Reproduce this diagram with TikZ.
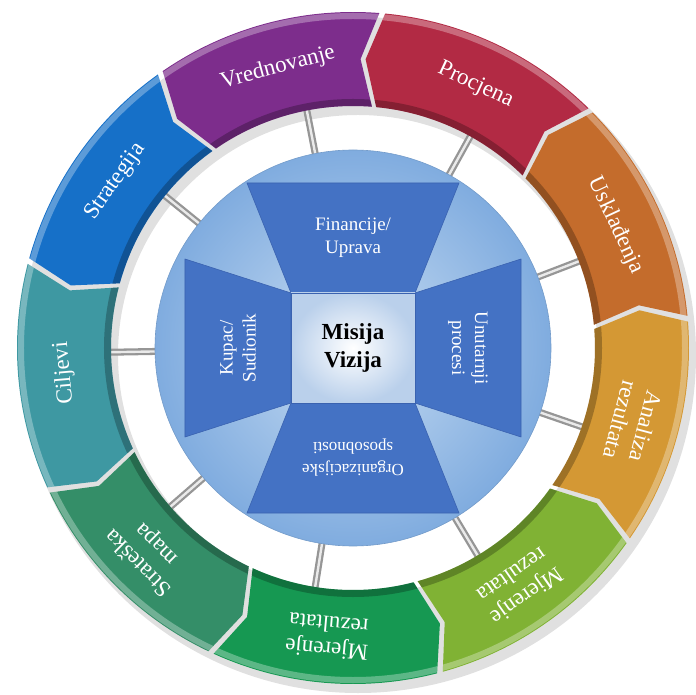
\documentclass[tikz,border=0pt]{standalone}
\usepackage{fontspec}
\setmainfont{Liberation Serif}

\definecolor{purpleSeg}{RGB}{125,45,140}
\definecolor{redSeg}{RGB}{178,42,68}
\definecolor{orangeSeg}{RGB}{196,108,44}
\definecolor{goldSeg}{RGB}{212,152,52}
\definecolor{limeSeg}{RGB}{128,178,52}
\definecolor{greenSeg}{RGB}{22,152,82}
\definecolor{seaSeg}{RGB}{52,142,104}
\definecolor{tealSeg}{RGB}{62,152,162}
\definecolor{blueSeg}{RGB}{22,112,200}
\definecolor{circInner}{RGB}{200,221,243}
\definecolor{circOuter}{RGB}{128,172,223}
\definecolor{quadBlue}{RGB}{68,114,196}
\definecolor{quadEdge}{RGB}{58,98,176}
\definecolor{sqEdge}{RGB}{186,208,235}
\definecolor{spokeGray}{RGB}{150,150,150}

\begin{document}
\begin{tikzpicture}[line join=round,
    ringseg/.style 2 args={insert path={(#1+0.5:336pt) arc[start angle=#1+0.5, end angle=#2-0.5, radius=336pt]
        -- (#2+2.5:289pt) -- (#2-0.5:242pt) arc[start angle=#2-0.5, end angle=#1+0.5, radius=242pt]
        -- (#1+3.5:289pt) -- cycle}},
    seg label/.style={text=white, align=center, font=\fontsize{23}{26}\selectfont},
    quad/.style={fill=quadBlue, draw=quadEdge, line width=0.6pt},
    quad label/.style={text=white, align=center, font=\fontsize{19}{23}\selectfont},
    spoke/.style={line width=7pt, draw=spokeGray},
    spoke shine/.style={line width=2.4pt, draw=white, opacity=.8}]

  \useasboundingbox (-353pt,-347pt) rectangle (342pt,348pt);

  % soft shadow of the ring
  \fill[black, opacity=.12, even odd rule] (5pt,-7pt) circle[radius=338pt] (5pt,-7pt) circle[radius=240pt];

  % spokes
  \foreach \a [count=\i] in {21,61,101,141,181,221,261,301,341} {
    \coordinate (hub\i) at (\a:196pt);
    \coordinate (rim\i) at (\a:246pt);
    \draw[spoke] (hub\i) -- (rim\i);
    \draw[spoke shine] (hub\i) -- (rim\i);
  }

  % ring of arrows
  \fill[orangeSeg, ringseg={5}{45}];
  \fill[redSeg,    ringseg={45}{85}];
  \fill[purpleSeg, ringseg={85}{125}];
  \fill[blueSeg,   ringseg={125}{165}];
  \fill[tealSeg,   ringseg={165}{205}];
  \fill[seaSeg,    ringseg={205}{245}];
  \fill[greenSeg,  ringseg={245}{285}];
  \fill[limeSeg,   ringseg={285}{325}];
  \fill[goldSeg,   ringseg={325}{365}];

  \begin{scope}
    \clip[ringseg={5}{45}, ringseg={45}{85}, ringseg={85}{125}, ringseg={125}{165}, ringseg={165}{205},
          ringseg={205}{245}, ringseg={245}{285}, ringseg={285}{325}, ringseg={325}{365}];
    \draw[black, opacity=.25, line width=14pt] (0,0) circle[radius=242pt];
    \draw[white, opacity=.3, line width=6pt] (0,0) circle[radius=332pt];
  \end{scope}

  \node[seg label, rotate=-65] (uskl)  at (25:290pt)  {Usklađenja};
  \node[seg label, rotate=-25] (procj) at (65:290pt)  {Procjena};
  \node[seg label, rotate=15]  (vred)  at (105:290pt) {Vrednovanje};
  \node[seg label, rotate=55]  (strat) at (145:290pt) {Strategija};
  \node[seg label, rotate=95]  (cilj)  at (185:290pt) {Ciljevi};
  \node[seg label, rotate=135] (smapa) at (225:290pt) {Strateška\\mapa};
  \node[seg label, rotate=175] (mjerA) at (265:290pt) {Mjerenje\\rezultata};
  \node[seg label, rotate=215] (mjerB) at (305:290pt) {Mjerenje\\rezultata};
  \node[seg label, rotate=255] (anal)  at (345:290pt) {Analiza\\rezultata};

  % centre
  \shadedraw[inner color=circInner, outer color=circOuter, draw=circOuter!90!black, line width=0.6pt]
    (0,0) circle[radius=198pt];

  \draw[quad] (-62pt,55pt) -- (62pt,55pt) -- (106pt,165pt) -- (-106pt,165pt) -- cycle;
  \draw[quad] (62pt,-55pt) -- (62pt,55pt) -- (168pt,89pt) -- (168pt,-89pt) -- cycle;
  \draw[quad] (-62pt,-55pt) -- (62pt,-55pt) -- (106pt,-165pt) -- (-106pt,-165pt) -- cycle;
  \draw[quad] (-62pt,-55pt) -- (-62pt,55pt) -- (-168pt,89pt) -- (-168pt,-89pt) -- cycle;
  \shadedraw[inner color=white, outer color=sqEdge, draw=quadEdge, line width=0.6pt]
    (-62pt,-55pt) rectangle (62pt,55pt);

  \node[quad label] (fin) at (0,110pt) {Financije/\\Uprava};
  \node[quad label, rotate=-90] (unut) at (115pt,0) {Unutarnji\\procesi};
  \node[quad label, rotate=180, font=\fontsize{17}{22}\selectfont] (org) at (0,-110pt) {Organizacijske\\sposobnosti};
  \node[quad label, rotate=90] (kup) at (-115pt,0) {Kupac/\\Sudionik};
  \node[align=center, font=\fontsize{23}{28}\selectfont\bfseries] (misija) at (0,0) {Misija\\Vizija};

\end{tikzpicture}
\end{document}
